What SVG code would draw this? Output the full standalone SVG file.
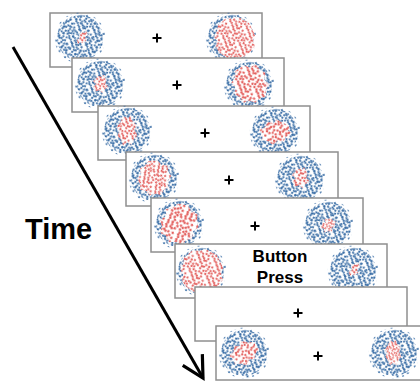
<svg xmlns="http://www.w3.org/2000/svg" width="420" height="382" viewBox="0 0 420 382">
<style>
.frame{fill:#fff;stroke:#8f8f8f;stroke-width:1.5}
.fix{stroke:#000;stroke-width:2;fill:none}
.red{fill:url(#pr)}
.lbl{font-family:"Liberation Sans",Arial,sans-serif;font-weight:bold;fill:#000}
</style>
<defs>
<g id="dots">
<circle cx="1.2" cy="1.9" r="1.1"/><circle cx="4.8" cy="1.0" r="1.1"/><circle cx="7.3" cy="2.3" r="1.1"/><circle cx="10.9" cy="1.2" r="1.1"/><circle cx="13.4" cy="2.0" r="1.1"/><circle cx="16.6" cy="1.1" r="1.1"/>
<circle cx="2.1" cy="4.8" r="1.1"/><circle cx="8.2" cy="4.1" r="1.1"/><circle cx="10.1" cy="5.0" r="1.1"/><circle cx="14.3" cy="4.4" r="1.1"/><circle cx="16.0" cy="5.6" r="1.1"/>
<circle cx="1.0" cy="7.2" r="1.1"/><circle cx="5.1" cy="7.9" r="1.1"/><circle cx="11.4" cy="7.0" r="1.1"/><circle cx="12.9" cy="8.1" r="1.1"/><circle cx="17.0" cy="7.6" r="1.1"/>
<circle cx="2.4" cy="10.9" r="1.1"/><circle cx="8.6" cy="10.7" r="1.1"/><circle cx="14.0" cy="10.2" r="1.1"/><circle cx="15.8" cy="11.0" r="1.1"/><circle cx="5.6" cy="11.4" r="1.1"/>
<circle cx="1.0" cy="13.1" r="1.1"/><circle cx="5.3" cy="13.8" r="1.1"/><circle cx="11.1" cy="13.3" r="1.1"/><circle cx="13.1" cy="14.0" r="1.1"/><circle cx="17.0" cy="13.4" r="1.1"/><circle cx="8.4" cy="14.6" r="1.1"/>
<circle cx="2.0" cy="16.9" r="1.1"/><circle cx="4.4" cy="16.2" r="1.1"/><circle cx="7.9" cy="17.0" r="1.1"/><circle cx="10.4" cy="16.4" r="1.1"/><circle cx="16.2" cy="15.9" r="1.1"/>
</g>
<pattern id="pb" patternUnits="userSpaceOnUse" width="18" height="18" patternTransform="rotate(23)">
<use href="#dots" fill="#3a6ea6"/>
</pattern>
<pattern id="pr" patternUnits="userSpaceOnUse" width="18" height="18" patternTransform="rotate(23)">
<rect width="18" height="18" fill="#fff"/>
<use href="#dots" fill="#e35e5c"/>
</pattern>
<pattern id="ps" patternUnits="userSpaceOnUse" width="11" height="11" patternTransform="rotate(-17)">
<g fill="#3a6ea6"><circle cx="2" cy="3" r="1.1"/><circle cx="7.5" cy="1.5" r="1.1"/><circle cx="5" cy="8" r="1.1"/><circle cx="9.5" cy="6.5" r="1.1"/></g>
</pattern>
<g id="disk"><circle r="25.5" fill="url(#ps)"/><circle r="23" fill="url(#pb)"/></g>
<path id="bA" d="M-1,-6 L2,-5 L4,-7 L6,-3 L3,-1 L4,3 L1,5 L-2,4 L-4,6 L-5,2 L-2,0 L-3,-3 Z"/>
<path id="bB" d="M-3,-9 L2,-8 L4,-10 L7,-5 L6,0 L9,3 L5,6 L3,10 L-1,7 L-5,8 L-7,3 L-4,0 L-8,-3 L-5,-5 Z"/>
<path id="bC" d="M-4,-14 L1,-12 L4,-15 L6,-9 L10,-6 L8,-1 L11,4 L7,8 L5,13 L0,11 L-4,14 L-6,8 L-10,5 L-8,0 L-11,-4 L-7,-8 Z"/>
<path id="bD" d="M-6,-17 L0,-15 L5,-18 L9,-13 L14,-10 L13,-4 L17,1 L14,6 L15,11 L9,13 L5,17 L-1,15 L-6,17 L-9,12 L-14,9 L-13,3 L-17,-1 L-14,-6 L-13,-12 Z"/>
<path id="bE" d="M-8,-20 L-2,-19 L4,-21 L10,-18 L15,-15 L18,-9 L21,-3 L19,3 L21,8 L17,13 L13,17 L7,20 L1,19 L-5,21 L-10,18 L-15,14 L-18,9 L-17,3 L-20,-2 L-17,-7 L-16,-13 L-12,-16 Z"/>
<path id="cross" d="M-4.5,0 H4.5 M0,-4.5 V4.5"/>
<marker id="chev" markerUnits="userSpaceOnUse" markerWidth="30" markerHeight="30" viewBox="-26 -15 30 30" refX="0" refY="0" orient="auto" overflow="visible">
<path d="M-21,-11.3 L0,0 L-21,11.3" fill="none" stroke="#000" stroke-width="3.2" stroke-linejoin="miter"/>
</marker>
</defs>

<g id="connectors">
<line x1="13" y1="47" x2="203" y2="378" stroke="#000" stroke-width="3" marker-end="url(#chev)"/>
</g>

<text id="time-label" class="lbl" x="25" y="239" font-size="29">Time</text>

<g id="frame1">
<rect class="frame" x="50" y="13" width="212" height="54"/>
<g transform="translate(80,38)"><use href="#disk"/><use href="#bA" class="red" transform="translate(2,0)"/></g>
<use href="#cross" class="fix" x="157" y="38"/>
<g transform="translate(231,38)"><use href="#disk"/><use href="#bE" class="red" transform="translate(3,0)"/></g>
</g>

<g id="frame2">
<rect class="frame" x="72" y="58" width="212" height="54"/>
<g transform="translate(100,84)"><use href="#disk"/><use href="#bB" class="red" transform="scale(0.9)"/></g>
<use href="#cross" class="fix" x="177" y="85"/>
<g transform="translate(249,85)"><use href="#disk"/><use href="#bD" class="red" transform="translate(1,-1) scale(1.1)"/></g>
</g>

<g id="frame3">
<rect class="frame" x="98" y="106" width="212" height="54"/>
<g transform="translate(127,131)"><use href="#disk"/><use href="#bC" class="red" transform="scale(0.95,1.05)"/></g>
<use href="#cross" class="fix" x="205" y="133"/>
<g transform="translate(275,132)"><use href="#disk"/><use href="#bC" class="red" transform="rotate(80) scale(1.1)"/></g>
</g>

<g id="frame4">
<rect class="frame" x="126" y="152" width="212" height="54"/>
<g transform="translate(154,178)"><use href="#disk"/><use href="#bD" class="red" transform="rotate(30)"/></g>
<use href="#cross" class="fix" x="229" y="180"/>
<g transform="translate(300,179)"><use href="#disk"/><use href="#bB" class="red" transform="translate(0,-1) scale(1.05)"/></g>
</g>

<g id="frame5">
<rect class="frame" x="151" y="198" width="212" height="54"/>
<g transform="translate(179,224)"><use href="#disk"/><use href="#bD" class="red" transform="rotate(45) scale(1.15)"/></g>
<use href="#cross" class="fix" x="255" y="226"/>
<g transform="translate(328,225)"><use href="#disk"/><use href="#bB" class="red" transform="rotate(40) scale(0.8)"/></g>
</g>

<g id="frame6">
<rect class="frame" x="175" y="244" width="212" height="54"/>
<g transform="translate(201,271)"><use href="#disk"/><use href="#bE" class="red" transform="scale(1.05)"/></g>
<text class="lbl" x="280" y="262" font-size="17" text-anchor="middle">Button</text>
<text class="lbl" x="280" y="283" font-size="17" text-anchor="middle">Press</text>
<g transform="translate(353,271)"><use href="#disk"/><use href="#bA" class="red" transform="translate(1,-1)"/></g>
</g>

<g id="frame7">
<rect class="frame" x="195" y="287" width="212" height="54"/>
<use href="#cross" class="fix" x="298" y="313"/>
</g>

<g id="frame8">
<rect class="frame" x="216" y="326" width="212" height="54"/>
<g transform="translate(244,353)"><use href="#disk"/><use href="#bC" class="red" transform="rotate(60) scale(1.05)"/></g>
<use href="#cross" class="fix" x="318" y="356"/>
<g transform="translate(394,353)"><use href="#disk"/><use href="#bC" class="red" transform="translate(-1,0) scale(0.75,0.9)"/></g>
</g>
</svg>
